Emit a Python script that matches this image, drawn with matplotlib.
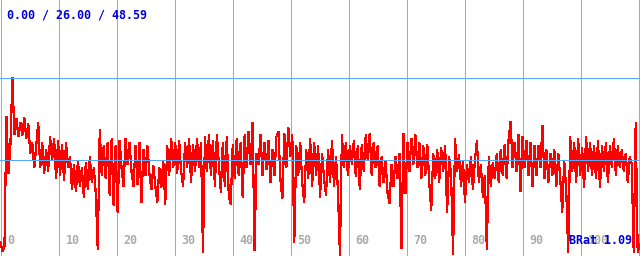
import numpy as np
import matplotlib
matplotlib.use("Agg")
import matplotlib.pyplot as plt

# ---- data ----
min_val = 0.00
avg_val = 26.00
max_val = 48.59
brat_label = "BRat 1.09"
x_end = 110.2
tick_values = [0, 10, 20, 30, 40, 50, 60, 70, 80, 90, 100]
grid_values = [0, 10, 20, 30, 40, 50, 60, 70, 80, 90, 100, 110]

values = [
    3.5, 1.2, 2.5, 38.0, 22.5, 30.5, 48.59, 33, 37.5, 32.5,
    36.5, 33, 37.8, 32, 36, 28, 31, 24, 30, 36.5,
    24, 31, 22.5, 29, 23, 32.5, 26, 32, 21, 31.5,
    22, 30.5, 20.5, 31, 24, 27, 18, 25, 17.5, 26,
    19, 24, 16, 25.5, 18, 27, 20, 24, 17, 1.6,
    34.5, 22, 30, 21, 31, 16.5, 32, 13.7, 30, 11.9,
    31.5, 24, 19, 32, 25, 31, 23, 19, 30, 19.5,
    31, 14.5, 29, 22, 30, 22.5, 18, 24.5, 19, 14.5,
    24, 18.5, 26, 14, 30, 22, 32, 24, 31, 22.5,
    31.5, 23, 19, 31, 24, 32, 20, 30.5, 23, 32,
    24, 31, 0.7, 32.5, 23, 33, 22, 31.5, 19, 33,
    25, 17.3, 31, 19, 32.5, 16.5, 14, 30.5, 21, 32,
    22, 31, 16, 33, 24, 34, 25, 36.5, 1.4, 28,
    25, 33, 22, 31, 23.5, 31.5, 20, 29, 22, 32.5,
    34, 21, 15.5, 33.5, 24, 35, 27, 33, 3.6, 30,
    22, 31, 20, 14.5, 29, 21, 32, 19, 31, 22,
    30, 16, 28, 21, 16.5, 29, 20, 31.5, 19, 27,
    18, 0.0, 33, 24, 31, 22, 30, 25, 31.5, 21.5,
    30, 18, 30.5, 23, 33, 26, 33.5, 22, 31, 24,
    30, 19, 27, 20, 26, 17, 14.3, 25, 19, 27,
    21, 28, 2.0, 33.5, 17, 31, 23, 32, 25, 33,
    24, 31, 21, 30, 22, 30.5, 20, 12.3, 28, 21,
    29, 20, 29.5, 23, 30, 11.7, 27, 22, 0.4, 32,
    23, 27.5, 19, 26, 14.5, 25, 20, 27, 18, 26,
    31.5, 20, 25, 16, 22, 1.6, 27, 19, 25.5, 21,
    28, 20, 29, 22, 30.5, 21, 32, 36.7, 24, 31,
    23, 33, 17.5, 32.5, 24, 31.5, 22, 31, 19, 30,
    22, 30, 24, 35.5, 21, 29, 20, 28, 22, 29,
    19, 28, 21, 11.9, 26, 18, 0.9, 32.5, 23, 31,
    20, 32, 22, 29.5, 18.5, 32.5, 23, 31, 22, 30,
    21, 31.5, 18.5, 30, 23, 31, 20, 30, 24, 32,
    22, 30, 24, 29, 23, 28, 20, 27, 25, 0.9,
    36.5, 0.9, 3.0,
]

# ---- style ----
RED = "#ff0000"
GRID_GRAY = "#aaaaaa"
LINE_BLUE = "#55aaff"
TEXT_BLUE = "#0000dd"
W, H, DPI = 640, 256, 100
px_x = 5.8      # pixels per x unit
px_y = 3.654    # pixels per y unit
ONE_PX = 72 / DPI

fig = plt.figure(figsize=(W / DPI, H / DPI), dpi=DPI, facecolor="white")
ax = fig.add_axes([0, 0, 1, 1])
ax.set_axis_off()
ax.set_xlim(-0.5 / px_x, (W - 0.5) / px_x)
ax.set_ylim(-0.5 / px_y, (H - 0.5) / px_y)

for g in grid_values:
    ax.axvline(g, color=GRID_GRAY, lw=ONE_PX, zorder=1, antialiased=False)

x = np.linspace(0, x_end, len(values))
ax.plot(x, values, color=RED, lw=1.2 * ONE_PX, zorder=2, antialiased=False,
        solid_joinstyle="miter")

for yv in (min_val, avg_val, max_val):
    ax.axhline(yv, color=LINE_BLUE, lw=ONE_PX, zorder=3, antialiased=False)

font = dict(family="DejaVu Sans Mono", weight="bold", size=8.4)

for t in tick_values:
    ax.annotate(str(t), xy=(t, 0), xytext=(7, 15), textcoords="offset pixels",
                ha="left", va="center", color=GRID_GRAY, zorder=4, **font)

ax.text(7 / W, 1 - 15.5 / H, f"{min_val:.2f} / {avg_val:.2f} / {max_val:.2f}",
        transform=ax.transAxes, ha="left", va="center", color=TEXT_BLUE, zorder=5, **font)
ax.text(632 / W, 15 / H, brat_label, transform=ax.transAxes,
        ha="right", va="center", color=TEXT_BLUE, zorder=5, **font)

fig.savefig("out.png", dpi=DPI, facecolor="white")
